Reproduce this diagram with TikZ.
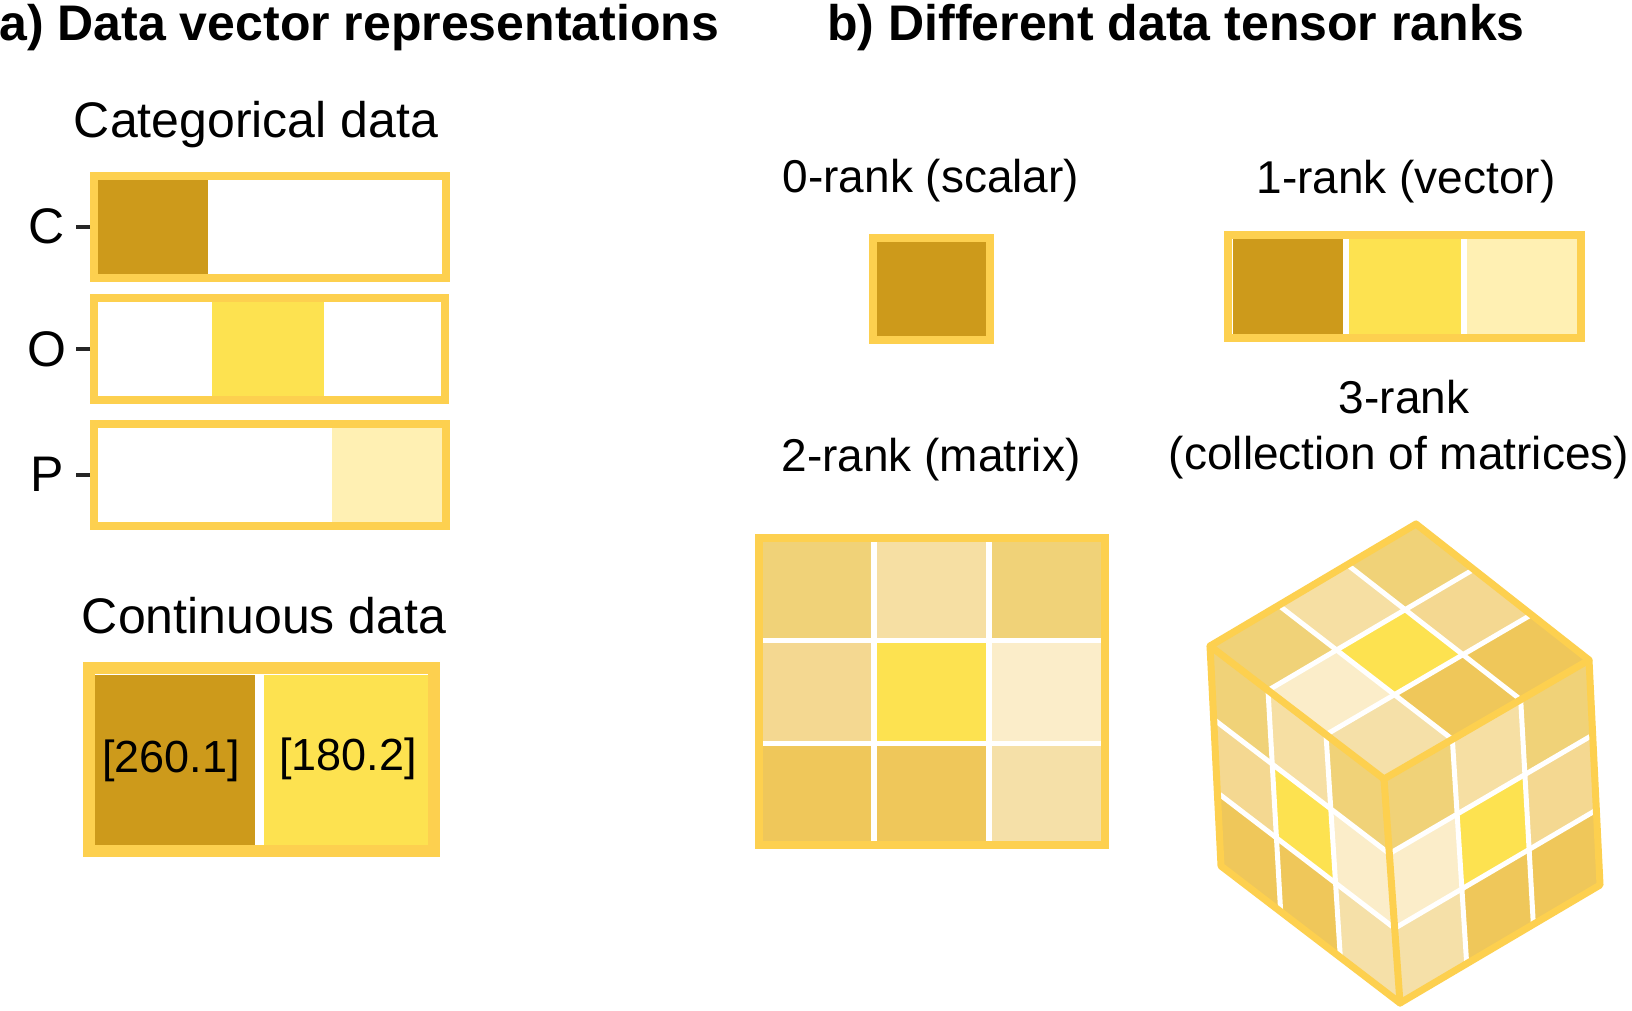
\documentclass[tikz,border=0pt]{standalone}
\usepackage{fontspec}
\setmainfont{Liberation Sans}
\usetikzlibrary{calc}
\definecolor{bord}{HTML}{FDD04F}
\definecolor{gold}{HTML}{CD9A1B}
\definecolor{yel}{HTML}{FDE250}
\definecolor{lyel}{HTML}{FFF0B3}
\definecolor{tanA}{HTML}{F0D278}
\definecolor{tanB}{HTML}{F6DFA3}
\definecolor{tanC}{HTML}{F4D891}
\definecolor{cream}{HTML}{FBEDC9}
\definecolor{tanD}{HTML}{EFC75A}
\definecolor{tanE}{HTML}{F5E0A8}
\colorlet{m00}{tanA}\colorlet{m01}{tanB}\colorlet{m02}{tanA}
\colorlet{m10}{tanC}\colorlet{m11}{yel}\colorlet{m12}{cream}
\colorlet{m20}{tanD}\colorlet{m21}{tanD}\colorlet{m22}{tanE}
% face of cube: #1=P00 #2=P10 #3=P01 #4=P11 #5=flip columns (0/1)
\newcommand\mycubeface[5]{%
  \foreach \r in {0,1,2}{\foreach \c in {0,1,2}{%
    \pgfmathsetmacro\sa{\c/3}\pgfmathsetmacro\sb{(\c+1)/3}%
    \pgfmathsetmacro\ta{\r/3}\pgfmathsetmacro\tb{(\r+1)/3}%
    \pgfmathtruncatemacro\cc{#5==1 ? 2-\c : \c}%
    \edef\thecol{m\r\cc}%
    \coordinate (a0) at ($(#1)!\sa!(#2)$);
    \coordinate (a1) at ($(#1)!\sb!(#2)$);
    \coordinate (b0) at ($(#3)!\sa!(#4)$);
    \coordinate (b1) at ($(#3)!\sb!(#4)$);
    \fill[fill=\thecol] ($(a0)!\ta!(b0)$) -- ($(a1)!\ta!(b1)$) -- ($(a1)!\tb!(b1)$) -- ($(a0)!\tb!(b0)$) -- cycle;
  }}%
  \foreach \k in {1,2}{%
    \draw[cubegrid] ($(#1)!\k/3!(#2)$) -- ($(#3)!\k/3!(#4)$);
    \draw[cubegrid] ($(#1)!\k/3!(#3)$) -- ($(#2)!\k/3!(#4)$);
  }%
}
\begin{document}
\begin{tikzpicture}[x=0.5pt,y=-0.5pt,
  title/.style={font=\fontsize{25}{30}\selectfont\bfseries, inner sep=0, anchor=base west},
  lab/.style={font=\fontsize{25}{30}\selectfont, inner sep=0, anchor=base},
  labb/.style={font=\fontsize{23}{28}\selectfont, inner sep=0, anchor=base},
  val/.style={font=\fontsize{22.5}{27}\selectfont, inner sep=0, anchor=base},
  frame/.style={draw=bord, line width=4pt, inner sep=0, outer sep=0, fill=none},
  thinframe/.style={frame, line width=3.75pt},
  thickframe/.style={frame, line width=6pt},
  tickline/.style={draw=black!85, line width=1.6pt},
  cubegrid/.style={draw=white, line width=2.5pt},
  cubeedge/.style={draw=bord, line width=3.5pt, line join=round, line cap=round},
]
\fill[white] (0,0) rectangle (1632,1011);
\useasboundingbox (0,0) rectangle (1632,1011);

% ---------- titles ----------
\node[title] (ta) at (-1,41) {a) Data vector representations};
\node[title] (tb) at (827,41) {b) Different data tensor ranks};

% ---------- panel a: categorical ----------
\node[lab] (catlab) at (256,137) {Categorical data};
\fill[gold] (98,180) rectangle (208,275);
\fill[yel]  (212,302) rectangle (324,397);
\fill[lyel] (332,428) rectangle (442,522);
\node[thinframe, minimum width=176pt, minimum height=51pt] (boxC) at (270,227) {};
\node[thinframe, minimum width=175.5pt, minimum height=51pt] (boxO) at (269.5,349) {};
\node[thinframe, minimum width=176pt, minimum height=51pt] (boxP) at (270,475) {};
\node[lab] (labC) at (47,243) {C};
\node[lab] (labO) at (47,366) {O};
\node[lab] (labP) at (47,491) {P};
\draw[tickline] ([xshift=-2pt]boxC.west) -- ++(-14,0);
\draw[tickline] ([xshift=-2pt]boxO.west) -- ++(-14,0);
\draw[tickline] ([xshift=-2pt]boxP.west) -- ++(-14,0);

% ---------- panel a: continuous ----------
\node[lab] (contlab) at (264,633) {Continuous data};
\fill[gold] (95,675) rectangle (255,845);
\fill[yel]  (264,675) rectangle (428,845);
\node[thickframe, minimum width=172.5pt, minimum height=91.5pt] (boxCont) at (261.5,759.5) {};
\node[val] (v1) at (171,772) {[260.1]};
\node[val] (v2) at (348,770) {[180.2]};

% ---------- panel b: scalar ----------
\node[labb] (r0) at (931,192) {0-rank (scalar)};
\fill[gold] (877,242) rectangle (986,336);
\node[frame, minimum width=58.5pt, minimum height=51pt] (scal) at (931.5,289) {};

% ---------- panel b: vector ----------
\node[labb] (r1) at (1406,193) {1-rank (vector)};
\fill[gold] (1233,239) rectangle (1343,334);
\fill[yel]  (1349,239) rectangle (1461,334);
\fill[lyel] (1467,239) rectangle (1577,334);
\node[frame, minimum width=176.5pt, minimum height=51.5pt] (vect) at (1404.5,286.5) {};

% ---------- panel b: matrix ----------
\node[labb] (r2) at (931,471) {2-rank (matrix)};
\foreach \xa/\xb [count=\c from 0] in {763/871,877/986,992/1101}{
  \foreach \ya/\yb [count=\r from 0] in {542/638,643/741,746/842}{
    \edef\thecol{m\r\c}
    \fill[fill=\thecol] (\xa,\ya) rectangle (\xb,\yb);
  }
}
\node[frame, minimum width=173pt, minimum height=153.5pt] (matr) at (932,691.5) {};

% ---------- panel b: cube ----------
\node[labb] (r3a) at (1404,413) {3-rank};
\node[labb] (r3b) at (1399,469) {(collection of matrices)};
\coordinate (T)  at (1416,524);
\coordinate (L)  at (1210,646);
\coordinate (R)  at (1589,660);
\coordinate (F)  at (1384,779);
\coordinate (BL) at (1221,866);
\coordinate (BR) at (1600,885);
\coordinate (BF) at (1400,1003);
\mycubeface{L}{F}{BL}{BF}{0}
\mycubeface{F}{R}{BF}{BR}{1}
\mycubeface{L}{T}{F}{R}{1}
\draw[cubeedge] (T) -- (L) -- (BL) -- (BF) -- (BR) -- (R) -- cycle;
\draw[cubeedge] (L) -- (F) -- (R);
\draw[cubeedge] (F) -- (BF);
\end{tikzpicture}
\end{document}
